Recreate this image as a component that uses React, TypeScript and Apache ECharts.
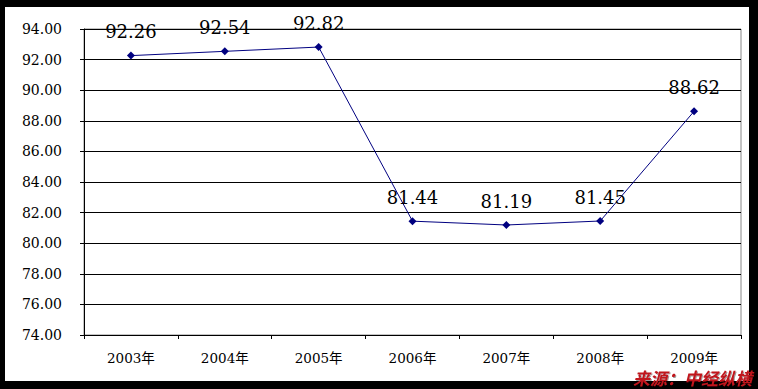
import React, { useEffect, useRef } from "react";
import * as echarts from "echarts";

const categories = ["2003年", "2004年", "2005年", "2006年", "2007年", "2008年", "2009年"];
const values = [92.26, 92.54, 92.82, 81.44, 81.19, 81.45, 88.62];
const yMin = 74;
const yMax = 94;
const yStep = 2;
const sourceNote = "来源：中经纵横";

const serif = "'DejaVu Serif','Noto Sans CJK SC',serif";

export default function App() {
  const ref = useRef<HTMLDivElement>(null);
  useEffect(() => {
    document.body.style.margin = "0";
    const chart = echarts.init(ref.current!, undefined, { renderer: "svg" });
    chart.setOption({
      animation: false,
      backgroundColor: "transparent",
      grid: { left: 84, right: 17, top: 29, bottom: 54, show: true, borderColor: "#888", borderWidth: 1, backgroundColor: "transparent" },
      xAxis: {
        type: "category",
        data: categories,
        boundaryGap: true,
        axisLine: { lineStyle: { color: "#000", width: 1 } },
        axisTick: { show: true, alignWithLabel: false, length: 4, inside: false, lineStyle: { color: "#000" } },
        axisLabel: { color: "#000", fontSize: 13.5, fontFamily: serif, margin: 16 },
        splitLine: { show: false },
      },
      yAxis: {
        type: "value",
        min: yMin,
        max: yMax,
        interval: yStep,
        axisLine: { show: true, lineStyle: { color: "#000", width: 1 } },
        axisTick: { show: true, length: 4, lineStyle: { color: "#000" } },
        axisLabel: { color: "#000", fontSize: 14, fontFamily: serif, margin: 22, formatter: (v: number) => v.toFixed(2) },
        splitLine: { show: true, lineStyle: { color: "#000", width: 1 } },
      },
      series: [
        {
          type: "line",
          data: values,
          symbol: "diamond",
          symbolSize: 8,
          itemStyle: { color: "#000080" },
          lineStyle: { color: "#000080", width: 1 },
          label: {
            show: true,
            position: "top",
            distance: 11,
            color: "#000",
            fontSize: 18,
            fontFamily: serif,
            formatter: (p: any) => p.value.toFixed(2),
          },
        },
      ],
      graphic: [
        {
          type: "text",
          left: 633,
          top: 369,
          z: 100,
          style: {
            text: sourceNote,
            fill: "#c0141c",
            fontSize: 17,
            lineHeight: 17,
            fontWeight: "bold",
            fontStyle: "italic",
            fontFamily: "'Noto Sans CJK SC',sans-serif",
            textShadowColor: "rgba(0,0,0,0.4)",
            textShadowBlur: 1,
            textShadowOffsetX: 1,
            textShadowOffsetY: 1,
          },
        },
      ],
    });
    return () => chart.dispose();
  }, []);
  return (
    <div style={{ position: "fixed", left: 0, top: 0, width: 758, height: 389, background: "#000" }}>
      <div style={{ position: "absolute", left: 5, top: 7, width: 744, height: 374, background: "#fff" }} />
      <div ref={ref} style={{ position: "absolute", left: 0, top: 0, width: 758, height: 389 }} />
    </div>
  );
}
